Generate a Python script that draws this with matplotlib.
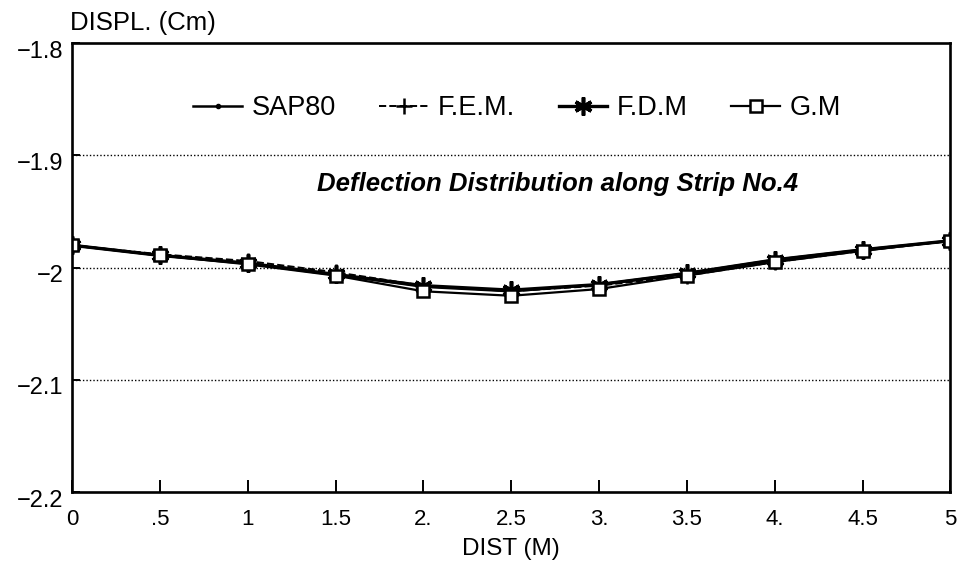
import numpy as np
import matplotlib.pyplot as plt
import matplotlib.transforms as mtransforms

plt.rcParams['font.family'] = ['Liberation Sans', 'DejaVu Sans']

# data
dist = [0, 0.5, 1, 1.5, 2, 2.5, 3, 3.5, 4, 4.5, 5]
sap80 = [-1.980, -1.989, -1.996, -2.006, -2.017, -2.021, -2.015, -2.005, -1.993, -1.984, -1.976]
fem = [-1.980, -1.988, -1.994, -2.004, -2.016, -2.021, -2.016, -2.007, -1.995, -1.985, -1.976]
fdm = [-1.980, -1.989, -1.996, -2.006, -2.016, -2.020, -2.015, -2.005, -1.993, -1.984, -1.976]
gm = [-1.980, -1.989, -1.997, -2.007, -2.021, -2.025, -2.019, -2.007, -1.995, -1.985, -1.976]

xticks = [0, 0.5, 1, 1.5, 2, 2.5, 3, 3.5, 4, 4.5, 5]
xticklabels = ['0', '.5', '1', '1.5', '2.', '2.5', '3.', '3.5', '4.', '4.5', '5']
yticks = [-2.2, -2.1, -2.0, -1.9, -1.8]
yticklabels = ['\u22122.2', '\u22122.1', '\u22122', '\u22121.9', '\u22121.8']

fig = plt.figure(figsize=(9.6, 5.69), dpi=100)
ax = fig.add_axes([0.075, 0.135, 0.915, 0.789])

ax.plot(dist, sap80, '-', color='black', lw=1.8, marker='.', ms=6, label='SAP80')
ax.plot(dist, fem, '--', color='black', lw=1.4, marker='+', ms=11, mew=1.8, label='F.E.M.')
ax.plot(dist, fdm, '-', color='black', lw=2.4, marker=(6, 2, 0), ms=13, mew=2.6, label='F.D.M')
ax.plot(dist, gm, '-', color='black', lw=1.6, marker='s', ms=9, mfc='white', mew=1.8, label='G.M')

for yv in [-2.1, -2.0, -1.9]:
    ax.axhline(yv, color='black', lw=1.0, ls=(0, (1, 1.5)), zorder=0)

ax.set_xlim(0, 5)
ax.set_ylim(-2.2, -1.8)
ax.set_xticks(xticks)
ax.set_xticklabels(xticklabels)
ax.set_yticks(yticks)
ax.set_yticklabels(yticklabels)
ax.tick_params(direction='in', length=9, width=1.4, labelsize=16, pad=12)
ax.tick_params(axis='y', length=6, labelsize=17, pad=6)
# scanned labels sit a bit below their ticks
shift = mtransforms.ScaledTranslation(0, -6 / 100, fig.dpi_scale_trans)
for lab in ax.get_yticklabels():
    lab.set_transform(lab.get_transform() + shift)
for s in ax.spines.values():
    s.set_linewidth(1.9)

ax.set_xlabel('DIST (M)', fontsize=17.5, labelpad=6)
fig.text(0.073, 0.960, 'DISPL. (Cm)', fontsize=18.5, ha='left', va='center')

ax.legend(loc='center', bbox_to_anchor=(0.507, 0.855), ncol=4, frameon=False,
          fontsize=19.5, handlelength=1.8, columnspacing=1.6, handletextpad=0.36,
          borderpad=0, borderaxespad=0)

ax.text(0.553, 0.686, 'Deflection Distribution along Strip No.4', transform=ax.transAxes,
        ha='center', va='center', fontsize=18.5, fontweight='bold', fontstyle='italic')

plt.savefig('out.png', dpi=100)
